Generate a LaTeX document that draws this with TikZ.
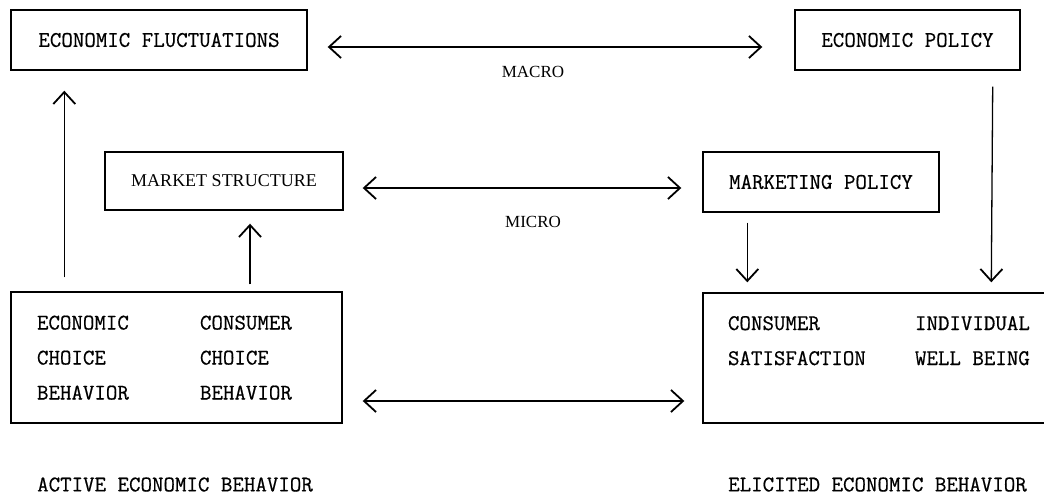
\documentclass[tikz,border=0pt]{standalone}
\usepackage{fontspec}
\setmainfont{Liberation Serif}
\setmonofont[FakeBold=0.6]{Latin Modern Mono}
\usetikzlibrary{positioning, arrows.meta}

\begin{document}
\begin{tikzpicture}[
		x=1pt, y=-1pt,
		>={Straight Barb[length=12pt, width=22pt, line width=1.8pt]},
		panel/.style={draw, line width=1.4pt, inner sep=0pt, font=\ttfamily\fontsize{22.3}{35}\selectfont},
		flow/.style={->, line width=1.3pt},
		twoway/.style={<->, line width=1.3pt},
		lbl/.style={inner sep=0pt, font=\fontsize{17}{20}\selectfont},
		caption/.style={inner sep=0pt, anchor=west, font=\ttfamily\fontsize{22.3}{26}\selectfont},
	]
	\useasboundingbox (0,0) rectangle (1044,495);
	\clip (0,0) rectangle (1044,495);

	\node[panel, minimum width=296, minimum height=60] (ef) at (159,40) {ECONOMIC FLUCTUATIONS};
	\node[panel, minimum width=225, minimum height=60] (ep) at (907.5,40) {ECONOMIC POLICY};
	\node[panel, minimum width=238, minimum height=58, font=\fontsize{18}{22}\selectfont] (ms) at (224,181) {MARKET STRUCTURE};
	\node[panel, minimum width=236, minimum height=60] (mp) at (821,182) {MARKETING POLICY};
	\node[panel, minimum width=331, minimum height=131] (ecb) at (176.5,357.5) {\begin{tabular}{@{}p{163pt}@{}p{116pt}@{}}
		ECONOMIC & CONSUMER \\ CHOICE & CHOICE \\ BEHAVIOR & BEHAVIOR
	\end{tabular}};
	\node[panel, minimum width=357, minimum height=130] (eb) at (881.5,358) {\begin{tabular}{@{}p{187pt}@{}p{120pt}@{}}
		CONSUMER & INDIVIDUAL \\ SATISFACTION & WELL BEING \\ &
	\end{tabular}};

	\draw[twoway] ([xshift=20pt, yshift=-7pt]ef.east) -- ([xshift=-32pt, yshift=-7pt]ep.west);
	\node[lbl] (macro) at (533,72) {MACRO};
	\draw[twoway] ([xshift=19pt, yshift=-7pt]ms.east) -- ([xshift=-21pt, yshift=-6pt]mp.west);
	\node[lbl] (micro) at (533,222) {MICRO};
	\draw[twoway] ([xshift=20pt, yshift=-43.5pt]ecb.east) -- ([xshift=-18pt, yshift=-43pt]eb.west);

	\draw[flow] ([xshift=54pt, yshift=14pt]ecb.north west) -- ([xshift=54pt, yshift=-20pt]ef.south west);
	\draw[flow] ([xshift=73.5pt, yshift=7pt]ecb.north) -- ([xshift=26pt, yshift=-13pt]ms.south);
	\draw[flow] ([xshift=-28pt, yshift=-16pt]ep.south east) -- ([xshift=289pt, yshift=10pt]eb.north west);
	\draw[flow] ([xshift=45pt, yshift=-10pt]mp.south west) -- ([xshift=45pt, yshift=10pt]eb.north west);

	\node[caption] (active) at (37,484.5) {ACTIVE ECONOMIC BEHAVIOR};
	\node[caption] (elicited) at (728,484.5) {ELICITED ECONOMIC BEHAVIOR};
\end{tikzpicture}
\end{document}
